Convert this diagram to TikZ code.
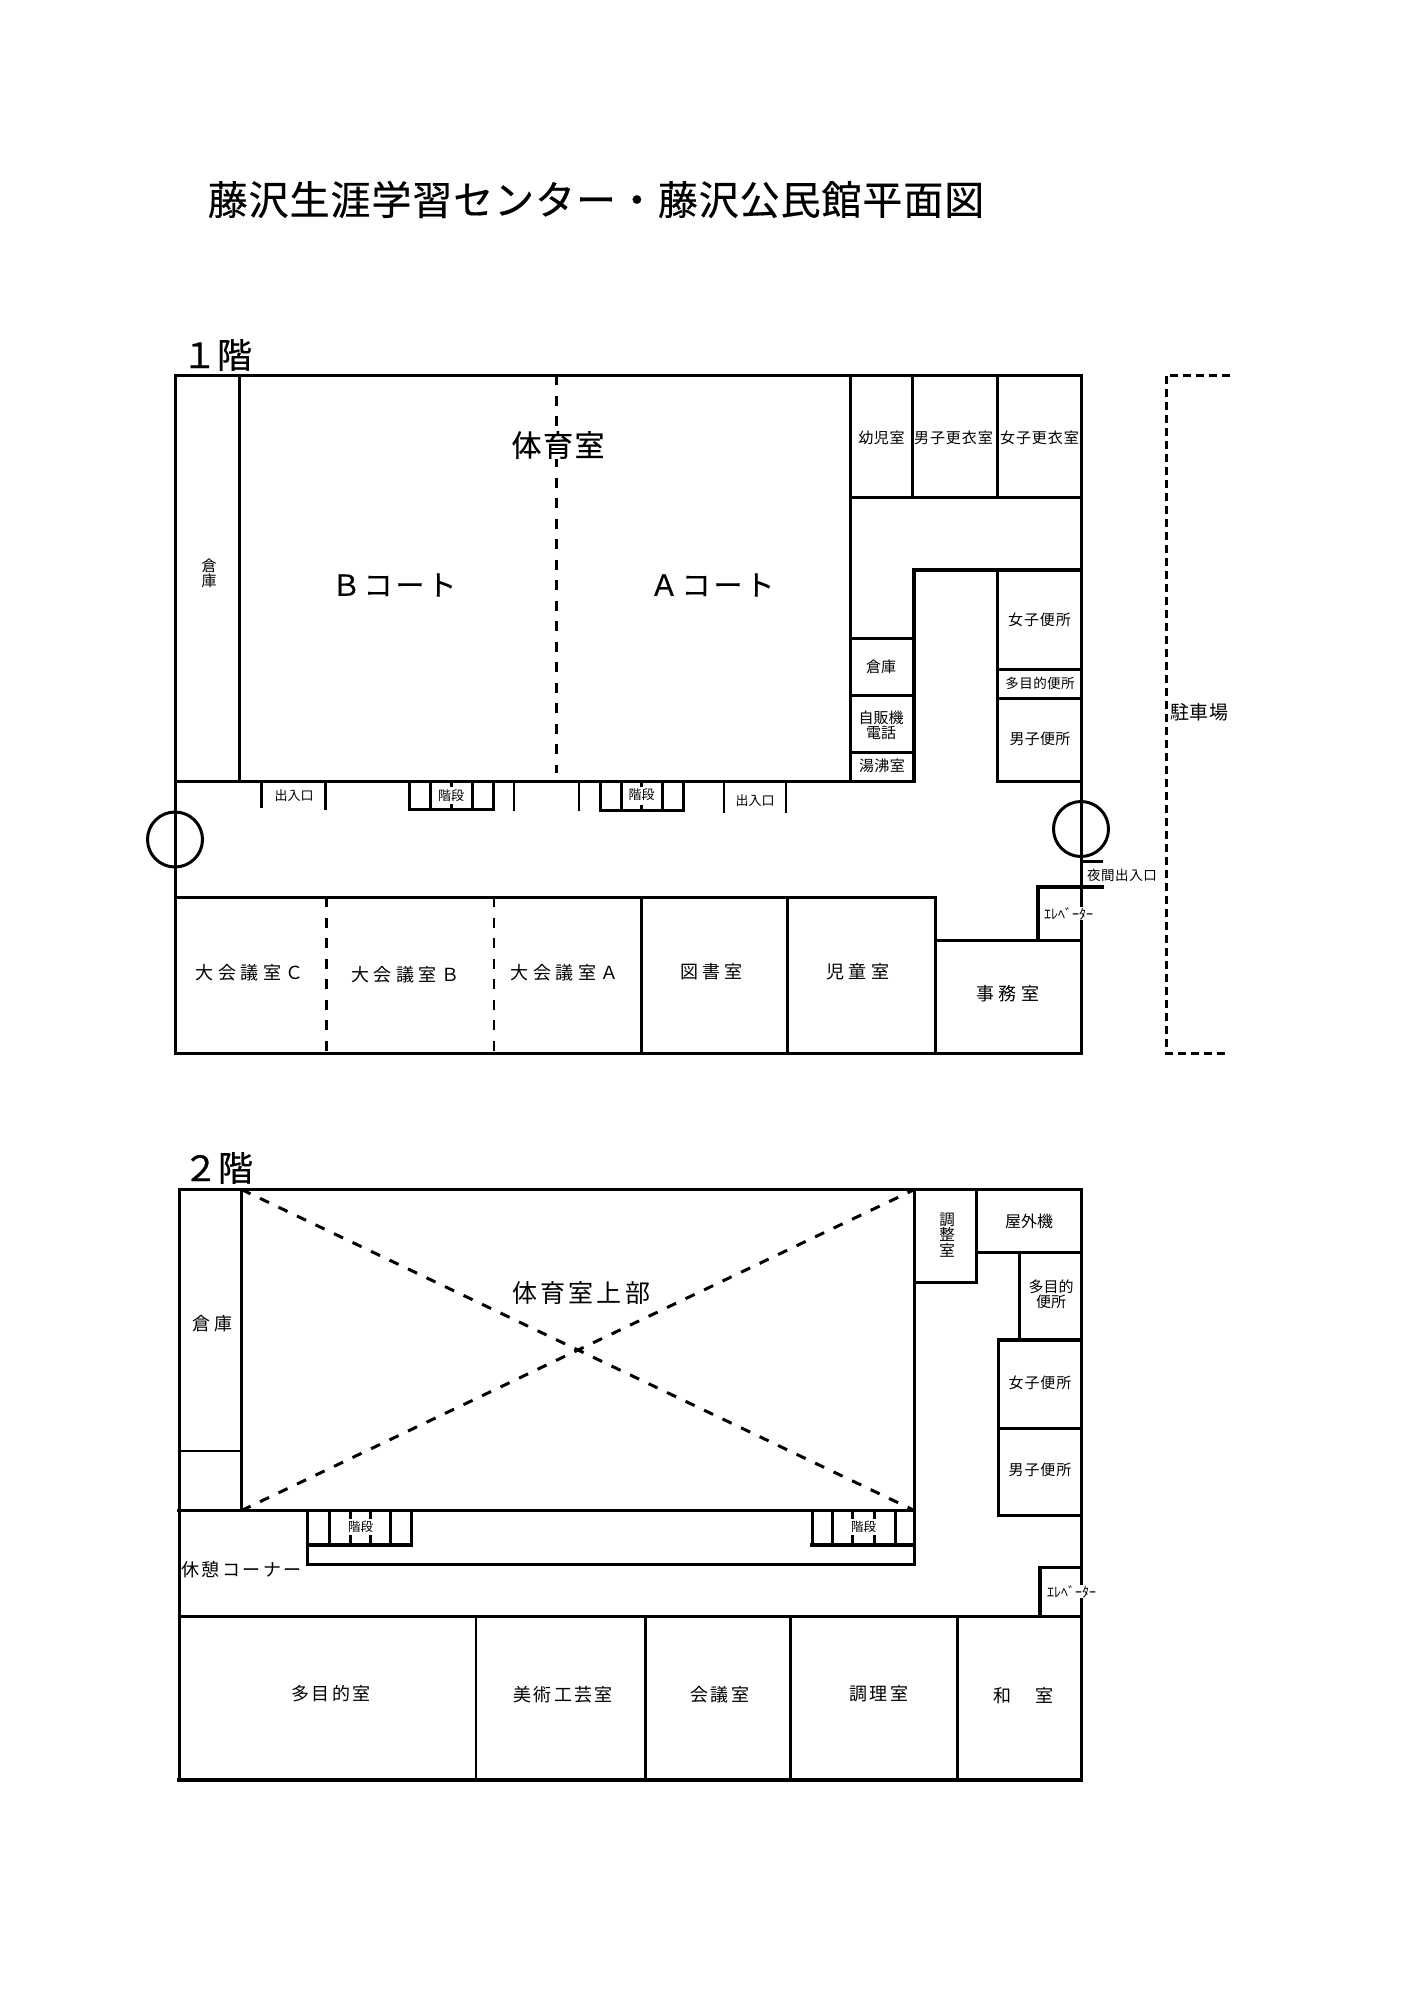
\documentclass[tikz,border=0pt]{standalone}
\usepackage{fontspec}
\setmainfont{Noto Sans CJK JP}
\usetikzlibrary{positioning}
\usetikzlibrary{calc}

\begin{document}
\begin{tikzpicture}[x=1pt, y=-1pt,
        wall/.style={line width=3pt, line cap=rect},
        heavywall/.style={line width=3.8pt, line cap=rect},
        lightwall/.style={line width=2.4pt, line cap=rect},
        court/.style={line width=3pt, dash pattern=on 10pt off 10.5pt},
        park/.style={line width=3pt, dash pattern=on 8pt off 5pt},
        roomtext/.style 2 args={inner sep=0pt, align=center, font=\fontsize{#1}{#1}\selectfont\addfontfeature{LetterSpace=#2}},
        headtext/.style 2 args={inner sep=0pt, align=center, font=\fontsize{#1}{#1}\selectfont\addfontfeature{LetterSpace=#2, FakeBold=0.4}}]
            \useasboundingbox (0,0) rectangle (1414,2000);

            \node[headtext={40}{2.3}] (title) at (596,199.5) {藤沢生涯学習センター・藤沢公民館平面図};
            \node[headtext={35}{0}] (floorA) at (217,355) {１階};
            \node[headtext={35}{0}] (floorB) at (218,1168) {２階};

            \draw[wall] (175,375) rectangle (1081,1053);
            \draw[wall] (239,375) -- (239,781);
            \draw[wall] (175,781) -- (914,781);
            \draw[wall] (997,781) -- (1081,781);
            \draw[wall] (850,375) -- (850,781);
            \draw[wall] (912,375) -- (912,497);
            \draw[wall] (997,375) -- (997,497);
            \draw[wall] (850,497) -- (1081,497);
            \draw[heavywall] (1081,570) -- (914,570) -- (914,781);
            \draw[wall] (997,570) -- (997,781);
            \draw[wall] (850,638) -- (914,638);
            \draw[wall] (850,695) -- (914,695);
            \draw[wall] (850,752) -- (914,752);
            \draw[wall] (997,669) -- (1081,669);
            \draw[wall] (997,698) -- (1081,698);
            \draw[court] (556,375) -- (556,773);
            \draw[park] (1230,375) -- (1166,375) -- (1166,1053) -- (1225,1053);

            \draw[lightwall] (261.5,781) -- (261.5,807);
            \draw[wall] (325.5,781) -- (325.5,808);
            \draw[wall] (409,781) -- (409,809) -- (493.5,809) -- (493.5,781);
            \draw[wall] (430,781) -- (430,809);
            \draw[wall] (472,781) -- (472,809);
            \draw[wall] (451,781) -- (451,785);
            \draw[wall] (451,805) -- (451,809);
            \draw[lightwall] (514,781) -- (514,810);
            \draw[lightwall] (579,781) -- (579,810);
            \draw[wall] (600.5,781) -- (600.5,810.5) -- (683,810.5) -- (683,781);
            \draw[wall] (621,781) -- (621,810.5);
            \draw[wall] (662.5,781) -- (662.5,810.5);
            \draw[wall] (641.5,781) -- (641.5,785);
            \draw[wall] (641.5,806) -- (641.5,810.5);
            \draw[lightwall] (724,781) -- (724,811.5);
            \draw[lightwall] (786,781) -- (786,811.5);

            \draw[wall] (175,839.5) circle[radius=27.5pt];
            \draw[wall] (1081,829) circle[radius=27.5pt];

            \draw[wall] (175,897) -- (935,897) -- (935,1053);
            \draw[wall] (935,940) -- (1081,940);
            \draw[court] (326,897) -- (326,1053);
            \draw[court, line width=2pt] (493.5,897) -- (493.5,1053);
            \draw[wall] (641.5,897) -- (641.5,1053);
            \draw[wall] (787,897) -- (787,1053);
            \draw[heavywall] (1038,940) -- (1038,887) -- (1102,887);
            \draw[lightwall] (1081,861.5) -- (1102,861.5);

            \node[headtext={30}{5}, fill=white] (gymA) at (558,445) {体育室};
            \node[headtext={29}{10}] (courtB) at (394,585) {Ｂコート};
            \node[headtext={29}{10}] (courtA) at (712,585) {Ａコート};
            \node[roomtext={15}{0}] (storeA) at (209,573) {倉\\庫};
            \node[roomtext={13}{0}] (doorA) at (294,796) {出入口};
            \node[roomtext={13}{0}] (stairA) at (451,796) {階段};
            \node[roomtext={13}{0}] (stairB) at (641.5,795) {階段};
            \node[roomtext={13}{0}] (doorB) at (755,800.5) {出入口};
            \node[roomtext={15}{4}] (infant) at (881.5,438) {幼児室};
            \node[roomtext={15}{6}] (lockerM) at (953.5,438) {男子更衣室};
            \node[roomtext={15}{6}] (lockerF) at (1039.5,438) {女子更衣室};
            \node[roomtext={15}{6}] (toiletF) at (1039.5,620) {女子便所};
            \node[roomtext={13.5}{3}] (toiletX) at (1040,683) {多目的便所};
            \node[roomtext={15}{2}] (toiletM) at (1040,739) {男子便所};
            \node[roomtext={15}{0}] (storeB) at (881,666.5) {倉庫};
            \node[roomtext={15}{0}] (vending) at (881,725.5) {自販機\\電話};
            \node[roomtext={15}{3}] (kettle) at (882,766) {湯沸室};
            \node[roomtext={19}{5}] (parking) at (1199.5,712) {駐車場};
            \node[roomtext={13.5}{4}, fill=white] (night) at (1122,875) {夜間出入口};
            \node[roomtext={14}{0}, fill=white] (liftA) at (1068.5,913.5) {ｴﾚﾍﾞｰﾀｰ};
            \node[roomtext={18}{24}] (office) at (1008,994) {事務室};
            \node[roomtext={18}{25}] (hallC) at (249.5,973) {大会議室Ｃ};
            \node[roomtext={18}{25}] (hallB) at (405,975) {大会議室Ｂ};
            \node[roomtext={18}{25}] (hallA) at (564.5,973) {大会議室Ａ};
            \node[roomtext={18}{24}] (library) at (711.5,971.5) {図書室};
            \node[roomtext={18}{24}] (kids) at (858,972) {児童室};

            \draw[wall] (179,1189.5) rectangle (1081.5,1780);
            \draw[heavywall] (179,1780) -- (1081.5,1780);
            \draw[wall] (241.5,1189.5) -- (241.5,1510.5);
            \draw[lightwall] (179,1451) -- (241.5,1451);
            \draw[heavywall] (179,1510.5) -- (914.5,1510.5);
            \draw[wall] (914.5,1189.5) -- (914.5,1564) -- (307.5,1564) -- (307.5,1510.5);
            \draw[heavywall] (307.5,1545) -- (411.5,1545);
            \draw[heavywall] (812,1545) -- (914.5,1545);
            \draw[wall] (329,1510.5) -- (329,1545);
            \draw[wall] (390,1510.5) -- (390,1545);
            \draw[wall] (411.5,1510.5) -- (411.5,1545);
            \draw[wall] (350.5,1510.5) -- (350.5,1517);
            \draw[wall] (350.5,1536) -- (350.5,1545);
            \draw[wall] (370.5,1510.5) -- (370.5,1517);
            \draw[wall] (370.5,1536) -- (370.5,1545);
            \draw[wall] (812,1510.5) -- (812,1545);
            \draw[wall] (832,1510.5) -- (832,1545);
            \draw[wall] (895.5,1510.5) -- (895.5,1545);
            \draw[wall] (852.5,1510.5) -- (852.5,1517);
            \draw[wall] (852.5,1536) -- (852.5,1545);
            \draw[wall] (874.5,1510.5) -- (874.5,1517);
            \draw[wall] (874.5,1536) -- (874.5,1545);
            \draw[court] (241.5,1189.5) -- (914.5,1510.5);
            \draw[court] (241.5,1510.5) -- (914.5,1189.5);

            \draw[heavywall] (914.5,1282.5) -- (976.5,1282.5) -- (976.5,1189.5);
            \draw[wall] (976.5,1252.5) -- (1081.5,1252.5);
            \draw[wall] (1019.5,1252.5) -- (1019.5,1340);
            \draw[heavywall] (1081.5,1340) -- (998.5,1340) -- (998.5,1515.5) -- (1081.5,1515.5);
            \draw[lightwall] (998.5,1428.5) -- (1081.5,1428.5);
            \draw[heavywall] (1081.5,1567.5) -- (1040,1567.5) -- (1040,1616.5);
            \draw[wall] (179,1616.5) -- (1081.5,1616.5);
            \draw[lightwall] (476,1616.5) -- (476,1780);
            \draw[lightwall] (645.5,1616.5) -- (645.5,1780);
            \draw[wall] (790,1616.5) -- (790,1780);
            \draw[wall] (957.5,1616.5) -- (957.5,1780);

            \node[roomtext={25}{13}] (gymB) at (581,1293) {体育室上部};
            \node[roomtext={18}{24}] (storeC) at (212.5,1324) {倉庫};
            \node[roomtext={12.5}{0}] (stairC) at (360.5,1527) {階段};
            \node[roomtext={12.5}{0}] (stairD) at (863.5,1526.5) {階段};
            \node[roomtext={18}{13}] (lounge) at (241.5,1570) {休憩コーナー};
            \node[roomtext={18}{13}] (multi) at (331,1694) {多目的室};
            \node[roomtext={18}{13}] (craft) at (563,1695) {美術工芸室};
            \node[roomtext={18}{13}] (meeting) at (720,1695) {会議室};
            \node[roomtext={18}{13}] (cooking) at (879,1694) {調理室};
            \node[roomtext={18}{14}] (tatami) at (1023.5,1696) {和　室};
            \node[roomtext={15.5}{0}] (control) at (947,1235) {調\\整\\室};
            \node[roomtext={16}{0}] (outdoor) at (1029,1221) {屋外機};
            \node[roomtext={15}{0}] (toiletY) at (1051,1294.5) {多目的\\便所};
            \node[roomtext={15}{6}] (toiletG) at (1040,1382.5) {女子便所};
            \node[roomtext={15}{6}] (toiletB) at (1040,1470) {男子便所};
            \node[roomtext={14}{0}, fill=white] (liftB) at (1071.5,1591.5) {ｴﾚﾍﾞｰﾀｰ};
        \end{tikzpicture}
\end{document}
